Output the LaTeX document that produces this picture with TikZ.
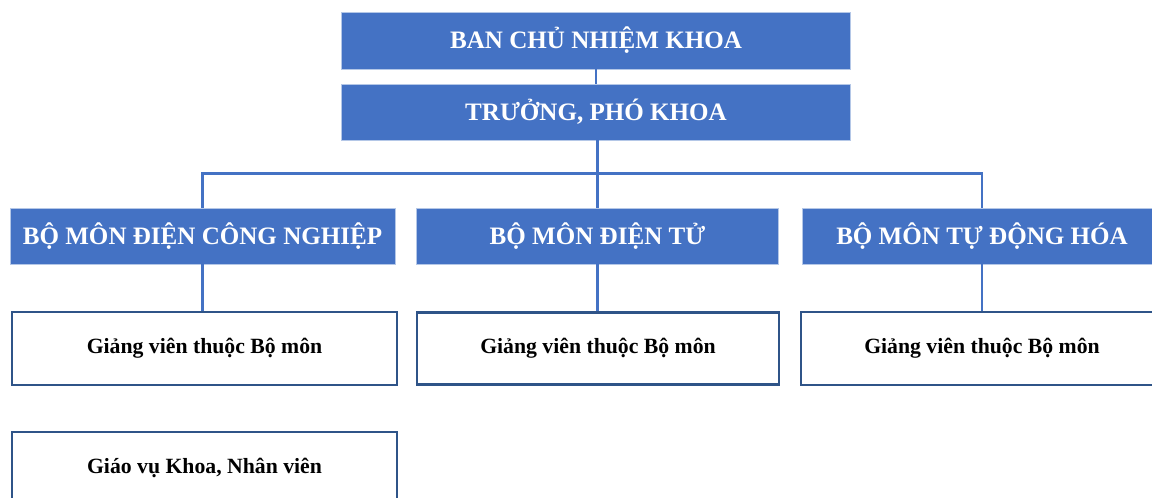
\documentclass[tikz,border=0pt]{standalone}
\usepackage{fontspec}
\setmainfont{Liberation Serif}
\definecolor{boxblue}{HTML}{4472C4}
\definecolor{edgeblue}{HTML}{B4C7E7}
\definecolor{darkframe}{HTML}{2F5488}
\tikzset{
  unitbox/.style={draw=edgeblue, line width=0.6pt, fill=boxblue, text=white,
    font=\fontsize{18.8}{21}\selectfont\bfseries, inner sep=0pt, anchor=center},
  staffbox/.style={draw=darkframe, line width=1.6pt, fill=white, text=black,
    font=\fontsize{16.3}{19}\selectfont\bfseries, inner sep=0pt, anchor=center},
  link/.style={draw=boxblue, line width=1.6pt}
}
\begin{document}
\begin{tikzpicture}[x=0.75pt, y=-0.75pt]
\useasboundingbox (0,0) rectangle (1152,497);

% leadership
\node[unitbox, minimum width=509*0.75pt, minimum height=57*0.75pt] (ban) at (596,40.5) {BAN CHỦ NHIỆM KHOA};
\node[unitbox, minimum width=509*0.75pt, minimum height=56*0.75pt] (truong) at (596,112) {TRƯỞNG, PHÓ KHOA};

% departments
\node[unitbox, minimum width=385*0.75pt, minimum height=56*0.75pt] (dcn) at (202.5,236) {BỘ MÔN ĐIỆN CÔNG NGHIỆP};
\node[unitbox, minimum width=362*0.75pt, minimum height=56*0.75pt] (dt) at (597.5,236) {BỘ MÔN ĐIỆN TỬ};
\node[unitbox, minimum width=360*0.75pt, minimum height=56*0.75pt] (tdh) at (982,236) {BỘ MÔN TỰ ĐỘNG HÓA};

% staff
\node[staffbox, minimum width=385*0.75pt, minimum height=73*0.75pt] (gv1) at (204.5,348.5) {Giảng viên thuộc Bộ môn};
\node[staffbox, minimum width=362*0.75pt, minimum height=72*0.75pt] (gv2) at (598,348.5) {Giảng viên thuộc Bộ môn};
\node[staffbox, minimum width=362*0.75pt, minimum height=73*0.75pt] (gv3) at (982,348.5) {Giảng viên thuộc Bộ môn};
\node[staffbox, minimum width=385*0.75pt, minimum height=72*0.75pt] (gvk) at (204.5,468) {Giáo vụ Khoa, Nhân viên};

% connectors
\coordinate (bus) at (0,173.5);
\draw[link] (ban.south) -- (truong.north);
\draw[link] (dt.north |- truong.south) -- (dt.north);
\draw[link] (dcn.north) -- (dcn.north |- bus) -- (tdh.north |- bus) -- (tdh.north);
\draw[link] (dcn.south) -- (dcn.south |- gv1.north);
\draw[link] (dt.south) -- (dt.south |- gv2.north);
\draw[link] (tdh.south) -- (tdh.south |- gv3.north);
\end{tikzpicture}
\end{document}
